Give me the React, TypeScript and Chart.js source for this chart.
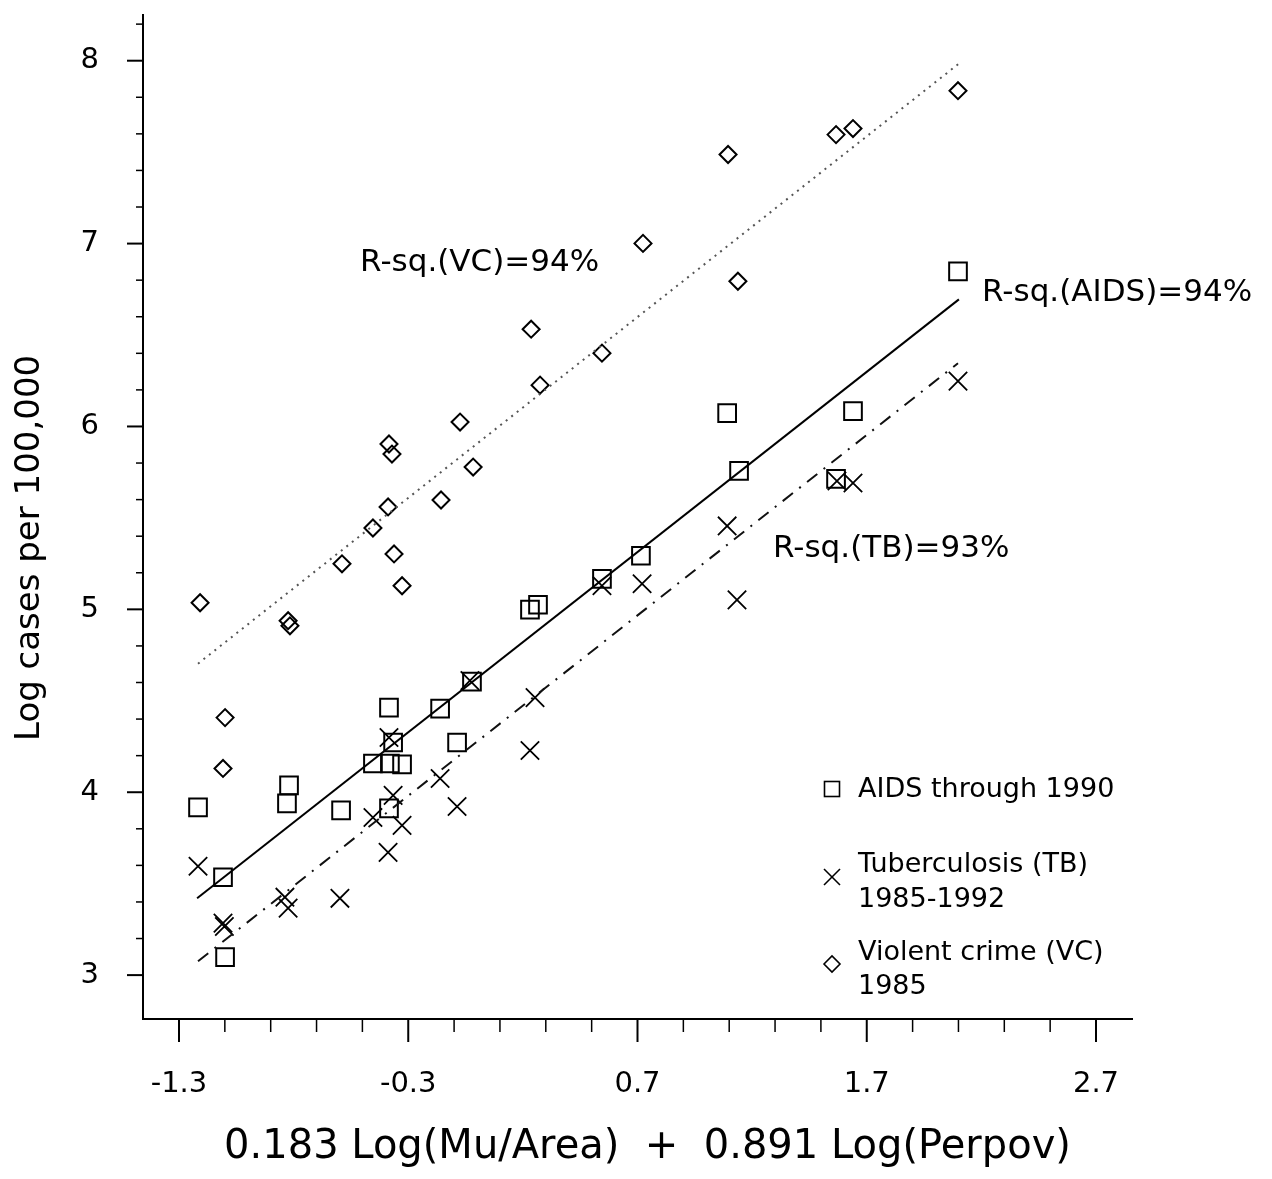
import React, { useEffect, useRef } from 'react';
import { Chart, registerables } from 'chart.js';

Chart.register(...registerables);

const FONT = '"DejaVu Sans", "Liberation Sans", sans-serif';
Chart.defaults.font.family = FONT;

// ---- data ----
const aidsX = [-1.217, -1.108, -1.099, -0.820, -0.829, -0.593, -0.454, -0.380, -0.327, -0.384, -0.366, -0.384, -0.161, -0.087, -0.022, 0.231, 0.266, 0.545, 0.715, 1.091, 1.143, 1.566, 1.640, 2.098];
const aidsY = [3.917, 3.535, 3.098, 4.037, 3.939, 3.901, 4.157, 4.157, 4.152, 4.463, 4.272, 3.912, 4.457, 4.272, 4.605, 4.998, 5.025, 5.167, 5.293, 6.073, 5.757, 5.713, 6.084, 6.848];

const tbX = [-1.217, -1.108, -1.102, -0.838, -0.824, -0.598, -0.454, -0.366, -0.327, -0.388, -0.384, -0.161, -0.087, -0.031, 0.231, 0.253, 0.545, 0.720, 1.091, 1.134, 1.570, 1.640, 2.098];
const tbY = [3.595, 3.284, 3.266, 3.426, 3.366, 3.420, 3.862, 3.983, 3.819, 3.671, 4.299, 4.075, 3.922, 4.610, 4.228, 4.517, 5.129, 5.140, 5.456, 5.052, 5.702, 5.691, 6.248];

const vcX = [-1.208, -1.099, -1.108, -0.824, -0.816, -0.589, -0.454, -0.388, -0.384, -0.371, -0.362, -0.327, -0.157, -0.074, -0.017, 0.236, 0.275, 0.545, 0.724, 1.095, 1.138, 1.566, 1.640, 2.098];
const vcY = [5.036, 4.408, 4.130, 4.938, 4.910, 5.249, 5.445, 5.560, 5.904, 5.849, 5.303, 5.129, 5.598, 6.024, 5.778, 6.532, 6.226, 6.401, 7.001, 7.487, 6.794, 7.596, 7.629, 7.836];

// fitted regression lines (end points)
const aidsFitX = [-1.221, 2.102];
const aidsFitY = [3.420, 6.695];
const tbFitX = [-1.217, 2.098];
const tbFitY = [3.076, 6.346];
const vcFitX = [-1.217, 2.107];
const vcFitY = [4.703, 7.989];

// axes
const xMin = -1.457;
const xMax = 2.857;
const yMin = 2.76;
const yMax = 8.251;
const xMajorTicks = [-1.3, -0.3, 0.7, 1.7, 2.7];
const xMinorTicks = [-1.1, -0.9, -0.7, -0.5, -0.1, 0.1, 0.3, 0.5, 0.9, 1.1, 1.3, 1.5, 1.9, 2.1, 2.3, 2.5];
const yMajorTicks = [3, 4, 5, 6, 7, 8];
const yMinorTicks = [3.2, 3.4, 3.6, 3.8, 4.2, 4.4, 4.6, 4.8, 5.2, 5.4, 5.6, 5.8, 6.2, 6.4, 6.6, 6.8, 7.2, 7.4, 7.6, 7.8, 8.2];

const xTitle = '0.183 Log(Mu/Area)  +  0.891 Log(Perpov)';
const yTitle = 'Log cases per 100,000';

const rsqLabels = ['R-sq.(VC)=94%', 'R-sq.(AIDS)=94%', 'R-sq.(TB)=93%'];
const rsqX = [-0.510, 2.203, 1.291];
const rsqY = [6.892, 6.728, 5.331];

const legendLabels = [['AIDS through 1990'], ['Tuberculosis (TB)', '1985-1992'], ['Violent crime (VC)', '1985']];

const toPts = (xs: number[], ys: number[]) => xs.map((x, i) => ({ x, y: ys[i] }));

const decorPlugin = {
  id: 'decor',
  afterDraw(chart: any) {
    const { ctx, chartArea: ca, scales } = chart;
    const xs = scales.x;
    const ys = scales.y;
    ctx.save();
    ctx.strokeStyle = '#000';
    ctx.fillStyle = '#000';
    const seg = (x1: number, y1: number, x2: number, y2: number) => {
      ctx.beginPath();
      ctx.moveTo(x1, y1);
      ctx.lineTo(x2, y2);
      ctx.stroke();
    };
    // ticks
    ctx.lineWidth = 2;
    xMajorTicks.forEach((v) => {
      const p = xs.getPixelForValue(v);
      seg(p, ca.bottom, p, ca.bottom + 23);
    });
    yMajorTicks.forEach((v) => {
      const p = ys.getPixelForValue(v);
      seg(ca.left - 16, p, ca.left, p);
    });
    ctx.lineWidth = 1.5;
    xMinorTicks.forEach((v) => {
      const p = xs.getPixelForValue(v);
      seg(p, ca.bottom, p, ca.bottom + 13);
    });
    yMinorTicks.forEach((v) => {
      const p = ys.getPixelForValue(v);
      seg(ca.left - 7, p, ca.left, p);
    });

    // R-sq annotations
    ctx.font = `31px ${FONT}`;
    ctx.textAlign = 'left';
    ctx.textBaseline = 'middle';
    rsqLabels.forEach((t, i) => {
      ctx.fillText(t, xs.getPixelForValue(rsqX[i]), ys.getPixelForValue(rsqY[i]));
    });

    // legend
    const mx = ca.right - 300;
    const tx = ca.right - 274;
    const b = ca.bottom;
    ctx.lineWidth = 1.6;
    ctx.strokeRect(mx - 7.5, b - 230 - 7.5, 15, 15);
    seg(mx - 8, b - 142 - 8, mx + 8, b - 142 + 8);
    seg(mx - 8, b - 142 + 8, mx + 8, b - 142 - 8);
    ctx.beginPath();
    ctx.moveTo(mx - 8, b - 55);
    ctx.lineTo(mx, b - 55 - 8);
    ctx.lineTo(mx + 8, b - 55);
    ctx.lineTo(mx, b - 55 + 8);
    ctx.closePath();
    ctx.stroke();

    ctx.font = `27px ${FONT}`;
    const lineYs = [[b - 229], [b - 154, b - 119], [b - 66, b - 32]];
    legendLabels.forEach((lines, i) => {
      lines.forEach((t, j) => ctx.fillText(t, tx, lineYs[i][j]));
    });

    // axis titles
    ctx.font = `40px ${FONT}`;
    ctx.textAlign = 'center';
    ctx.fillText(xTitle, (ca.left + ca.right) / 2 + 10, ca.bottom + 129);

    ctx.font = `34px ${FONT}`;
    ctx.translate(ca.left - 113, (ca.top + ca.bottom) / 2 + 31);
    ctx.rotate(-Math.PI / 2);
    ctx.fillText(yTitle, 0, 0);
    ctx.restore();
  },
};

export default function App() {
  const ref = useRef<HTMLCanvasElement | null>(null);

  useEffect(() => {
    document.body.style.margin = '0';
    const canvas = ref.current;
    if (!canvas) return;
    const chart = new Chart(canvas, {
      type: 'scatter',
      data: {
        datasets: [
          {
            label: 'AIDS fit',
            data: toPts(aidsFitX, aidsFitY),
            showLine: true,
            borderColor: '#000',
            borderWidth: 2,
            pointRadius: 0,
            pointHoverRadius: 0,
          },
          {
            label: 'TB fit',
            data: toPts(tbFitX, tbFitY),
            showLine: true,
            borderColor: '#111',
            borderWidth: 2,
            borderDash: [13, 8, 2, 8],
            pointRadius: 0,
            pointHoverRadius: 0,
          },
          {
            label: 'VC fit',
            data: toPts(vcFitX, vcFitY),
            showLine: true,
            borderColor: '#555',
            borderWidth: 2,
            borderDash: [2, 5],
            pointRadius: 0,
            pointHoverRadius: 0,
          },
          {
            label: 'AIDS through 1990',
            data: toPts(aidsX, aidsY),
            pointStyle: 'rect',
            pointRadius: 12.5,
            pointHoverRadius: 12.5,
            borderColor: '#000',
            backgroundColor: 'rgba(0,0,0,0)',
            pointBorderWidth: 2,
          },
          {
            label: 'Tuberculosis (TB) 1985-1992',
            data: toPts(tbX, tbY),
            pointStyle: 'crossRot',
            pointRadius: 13,
            pointHoverRadius: 13,
            borderColor: '#000',
            backgroundColor: 'rgba(0,0,0,0)',
            pointBorderWidth: 1.8,
          },
          {
            label: 'Violent crime (VC) 1985',
            data: toPts(vcX, vcY),
            pointStyle: 'rectRot',
            pointRadius: 8.5,
            pointHoverRadius: 8.5,
            borderColor: '#000',
            backgroundColor: 'rgba(0,0,0,0)',
            pointBorderWidth: 2,
          },
        ],
      },
      options: {
        animation: false,
        responsive: false,
        devicePixelRatio: 1,
        events: [],
        layout: { padding: { left: 0, top: 13, right: 140, bottom: 0 } },
        plugins: { legend: { display: false }, tooltip: { enabled: false } },
        scales: {
          x: {
            type: 'linear',
            min: xMin,
            max: xMax,
            afterBuildTicks: (s: any) => {
              s.ticks = xMajorTicks.map((v) => ({ value: v }));
            },
            afterFit: (s: any) => {
              s.height = 160;
              s.paddingLeft = 0;
              s.paddingRight = 0;
              s.paddingTop = 0;
              s.paddingBottom = 0;
            },
            grid: { display: false, drawTicks: false },
            border: { display: true, color: '#000', width: 2 },
            ticks: {
              color: '#000',
              font: { size: 29 },
              padding: 48,
              maxRotation: 0,
              autoSkip: false,
              callback: (v: any) => Number(v).toFixed(1),
            },
          },
          y: {
            type: 'linear',
            min: yMin,
            max: yMax,
            afterBuildTicks: (s: any) => {
              s.ticks = yMajorTicks.map((v) => ({ value: v }));
            },
            afterFit: (s: any) => {
              s.width = 143;
              s.paddingLeft = 0;
              s.paddingRight = 0;
              s.paddingTop = 0;
              s.paddingBottom = 0;
            },
            grid: { display: false, drawTicks: false },
            border: { display: true, color: '#000', width: 2 },
            ticks: {
              color: '#000',
              font: { size: 29 },
              padding: 44,
              autoSkip: false,
              callback: (v: any) => String(v),
            },
          },
        },
      },
      plugins: [decorPlugin],
    });
    return () => chart.destroy();
  }, []);

  return (
    <div style={{ width: 1272, height: 1179, background: '#fff' }}>
      <canvas ref={ref} width={1272} height={1179} style={{ display: 'block' }} />
    </div>
  );
}
